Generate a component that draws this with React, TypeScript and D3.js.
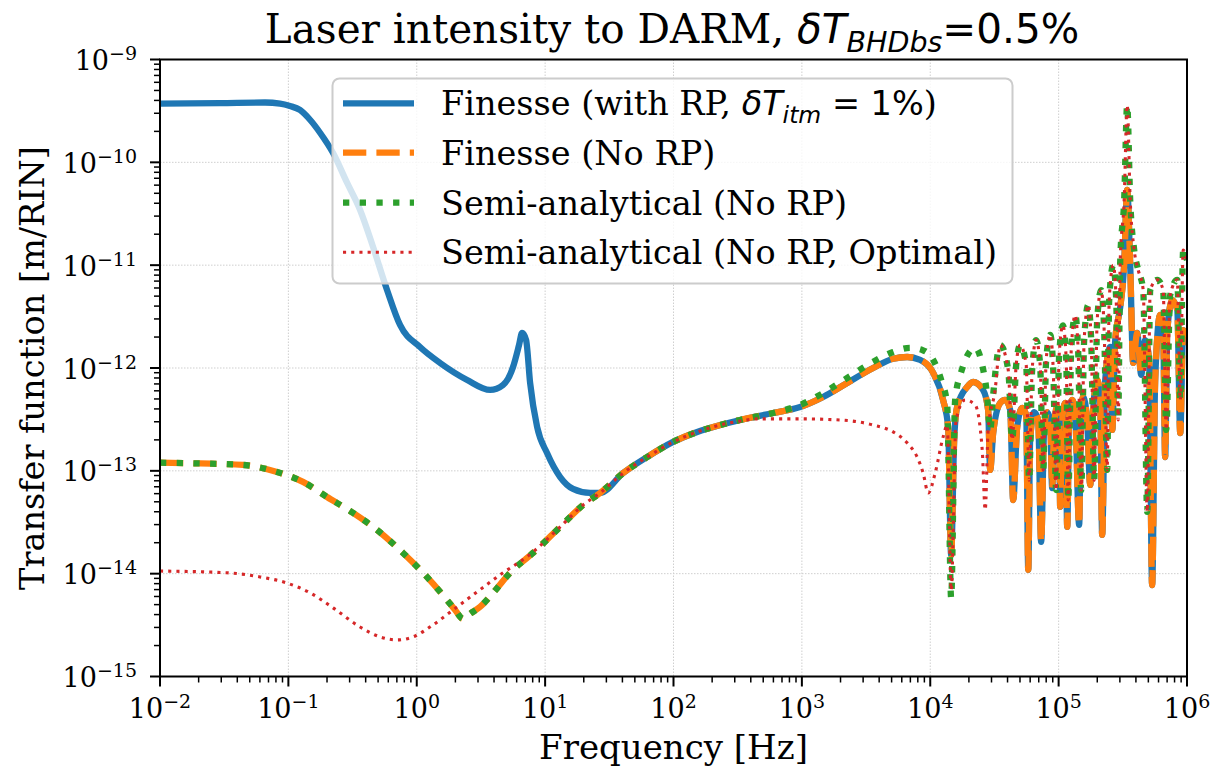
import React from 'react';
import * as d3 from 'd3';

const W = 1210;
const H = 771;
const PL = 160, PR = 1187, PT = 59.5, PB = 676.5;

const SERIF = '"DejaVu Serif", serif';
const SANS = '"DejaVu Sans", sans-serif';

const xTickExps = [-2, -1, 0, 1, 2, 3, 4, 5, 6];
const yTickExps = [-15, -14, -13, -12, -11, -10, -9];

// Finesse (No RP)
const finesseFreq = [
  0.01, 0.0205, 0.0444, 0.0816, 0.13, 0.2, 0.319, 0.491, 0.782, 1.2, 1.72, 1.99, 2.3, 2.6, 3.11, 3.93, 5.33, 8.05,
  13.1, 19.8, 26.8, 40.5, 62.2, 99.3, 153, 231, 330, 597, 969, 1465, 2254, 3590, 5140, 6610, 8340, 10540, 12590,
  13780, 14550, 15360, 16200, 19380, 21570, 25820, 28250, 29300, 30900, 35060, 38370, 41980, 44270, 47560, 52040,
  55900, 58000, 60000, 64500, 69300, 73100, 77100, 81500, 86000, 89100, 92300, 97500, 101000, 102800, 106600,
  112500, 116700, 120900, 127600, 134600, 144500, 149900, 155300, 166700, 176200, 185700, 199700, 210800, 218400,
  230700, 252600, 261500, 276000, 302000, 324000, 342000, 361000, 381000, 409000, 440000, 472000, 507000, 535000,
  565000, 618000, 652000, 676000, 702000, 768000, 840000, 886000, 934000, 1000000,
];
const finesseVal = [
  1.2e-13, 1.18e-13, 1.14e-13, 9.75e-14, 7.8e-14, 5.57e-14, 3.9e-14, 2.66e-14, 1.59e-14, 9.3e-15, 5.55e-15, 4.44e-15,
  3.63e-15, 4.07e-15, 4.75e-15, 6.5e-15, 1.02e-14, 1.59e-14, 2.85e-14, 4.67e-14, 6.1e-14, 9.5e-14, 1.36e-13, 1.91e-13,
  2.39e-13, 2.79e-13, 3.12e-13, 3.65e-13, 4.18e-13, 5.23e-13, 7.16e-13, 1.0e-12, 1.23e-12, 1.28e-12, 1.2e-12,
  8.95e-13, 4.89e-13, 2.67e-13, 1.52e-14, 2.0e-13, 4.18e-13, 6.53e-13, 7.31e-13, 6.1e-13, 3.9e-13, 1.02e-13,
  2.33e-13, 4.57e-13, 4.89e-13, 3.9e-13, 5.2e-14, 2.67e-13, 4.09e-13, 3.49e-13, 1.09e-14, 2.0e-13, 3.73e-13,
  3.12e-13, 2.04e-14, 2.5e-13, 3.73e-13, 3.12e-13, 6.8e-14, 2.79e-13, 4.18e-13, 3.12e-13, 4.46e-14, 3.12e-13,
  4.57e-13, 2.85e-14, 3.49e-13, 4.89e-13, 3.49e-13, 2.98e-14, 3.9e-13, 5.23e-13, 3.12e-13, 7.3e-14, 3.9e-13,
  7.65e-13, 4.89e-13, 2.38e-14, 7.65e-13, 1.6e-12, 2.5e-13, 1.87e-12, 3.92e-12, 1.0e-11, 5.4e-11, 1.0e-11,
  1.12e-12, 2.19e-12, 8.57e-13, 1.87e-12, 1.19e-12, 7.74e-15, 7.65e-13, 3.28e-12, 2.34e-12, 1.36e-13, 2.3e-12,
  4.58e-12, 3.66e-12, 2.33e-13, 2.34e-12, 1.67e-12,
];

// Finesse (with RP) below the merge frequency
const withRPFreq = [
  0.01, 0.0293, 0.0658, 0.0861, 0.103, 0.123, 0.148, 0.177, 0.223, 0.287, 0.362, 0.457, 0.587, 0.741, 1.06, 1.52,
  2.47, 3.73, 4.7, 5.62, 6.26, 6.61, 7.11, 7.64, 8.66, 10.35, 13.1, 16.5, 22.4,
];
const withRPVal = [
  3.73e-10, 3.77e-10, 3.82e-10, 3.73e-10, 3.53e-10, 3.23e-10, 2.58e-10, 1.93e-10, 1.23e-10, 6.3e-11, 3.44e-11,
  1.5e-11, 5.74e-12, 2.62e-12, 1.6e-12, 1.12e-12, 7.65e-13, 6.12e-13, 6.85e-13, 1.02e-12, 1.67e-12, 2.19e-12,
  1.87e-12, 7.16e-13, 2.67e-13, 1.49e-13, 8.7e-14, 6.67e-14, 6.1e-14,
];

// Semi-analytical (No RP), above 700 Hz
const semiHighFreq = [
  969, 1465, 2254, 3590, 5140, 6970, 8650, 10540, 12170, 13550, 14550, 15630, 17400, 22400, 25400, 27700, 29300,
  30900, 35060, 40500, 43500, 46700, 50100, 55900, 58900, 62200, 66800, 71800, 75800, 80000, 86000, 90800, 95700,
  101000, 108000, 114600, 118700, 125400, 134600, 141900, 149900, 158100, 170000, 179300, 189100, 199700, 214300,
  226300, 238800, 247700, 266000, 281000, 291000, 302000, 324000, 342000, 361000, 388000, 417000, 456000, 490000,
  517000, 586000, 652000, 689000, 740000, 840000, 886000, 934000, 1000000,
];
const semiHighVal = [
  4.37e-13, 5.71e-13, 8.0e-13, 1.15e-12, 1.43e-12, 1.57e-12, 1.5e-12, 1.2e-12, 7.65e-13, 4.37e-13, 5.8e-15,
  4.89e-13, 9.1e-13, 1.57e-12, 1.07e-12, 5.47e-13, 2.5e-13, 5.47e-13, 1.67e-12, 9.57e-13, 2.0e-13, 1.07e-12,
  1.67e-12, 1.07e-12, 8.1e-14, 9.57e-13, 1.87e-12, 1.07e-12, 1.02e-13, 1.2e-12, 2.1e-12, 9.57e-13, 6.5e-14,
  1.34e-12, 2.6e-12, 1.2e-12, 5.2e-14, 1.5e-12, 3.27e-12, 1.5e-12, 6.5e-14, 1.87e-12, 4.09e-12, 1.87e-12, 8.1e-14,
  2.93e-12, 5.73e-12, 2.34e-12, 1.02e-13, 4.58e-12, 1.0e-11, 4.58e-12, 3.12e-13, 1.12e-11, 4.3e-11, 3.61e-10,
  4.3e-11, 1.4e-11, 8.97e-12, 5.74e-12, 4.0e-14, 5.74e-12, 7.2e-12, 5.74e-12, 2.5e-13, 5.13e-12, 7.2e-12,
  4.89e-13, 1.4e-11, 1.12e-11,
];

// Semi-analytical (No RP, Optimal): low and middle parts
const optLowFreq = [0.01, 0.0333, 0.0601, 0.0976, 0.148, 0.223, 0.362, 0.518, 0.703, 0.936, 1.34, 1.92, 2.95, 4.7, 7.23];
const optLowVal = [
  1.06e-14, 1.02e-14, 9.3e-15, 8.1e-15, 6.5e-15, 4.65e-15, 3.03e-15, 2.43e-15, 2.27e-15, 2.43e-15, 3.18e-15,
  4.44e-15, 6.65e-15, 1.02e-14, 1.46e-14,
];
const optMidFreq = [
  330, 448, 969, 1986, 3590, 5140, 6610, 7910, 8810, 9640, 10920, 12590, 13550, 14550, 15900, 18700, 22400, 25400,
  26800, 28250, 32000,
];
const optMidVal = [
  3.05e-13, 3.2e-13, 3.2e-13, 3.12e-13, 2.79e-13, 2.39e-13, 1.87e-13, 1.36e-13, 9.5e-14, 6.1e-14, 9.5e-14,
  2.13e-13, 2.79e-13, 6.9e-15, 3.12e-13, 4.89e-13, 4.37e-13, 1.6e-13, 4.17e-14, 2.5e-13, 6.1e-13,
];

type P = [number, number];
const zip = (f: number[], v: number[]): P[] => f.map((d, i) => [d, v[i]] as P);

const finesse = zip(finesseFreq, finesseVal);
const withRP: P[] = [...zip(withRPFreq, withRPVal), ...finesse.filter((d) => d[0] > 26)];
const semi: P[] = [...finesse.filter((d) => d[0] < 700), ...zip(semiHighFreq, semiHighVal)];
const optimal: P[] = [
  ...zip(optLowFreq, optLowVal),
  ...finesse.filter((d) => d[0] >= 13 && d[0] <= 231),
  ...zip(optMidFreq, optMidVal),
  ...zip(semiHighFreq, semiHighVal).filter((d) => d[0] > 33000),
];

const C_BLUE = '#1f77b4', C_ORANGE = '#ff7f0e', C_GREEN = '#2ca02c', C_RED = '#d62728';

export default function App() {
  const x = d3.scaleLog().domain([1e-2, 1e6]).range([PL, PR]);
  const y = d3.scaleLog().domain([1e-15, 1e-9]).range([PB, PT]);
  const line = d3
    .line<P>()
    .x((d) => x(d[0]))
    .y((d) => y(d[1]))
    .curve(d3.curveMonotoneX);

  const xt = x.ticks();
  const yt = y.ticks();
  const isMajor = (v: number) => Math.abs(Math.log10(v) - Math.round(Math.log10(v))) < 1e-9;

  const legendItems = [
    { color: C_BLUE, w: 6.3, dash: undefined as string | undefined },
    { color: C_ORANGE, w: 6.3, dash: '23.3,10.1' },
    { color: C_GREEN, w: 6.3, dash: '6.3,10.4' },
    { color: C_RED, w: 3.1, dash: '3.1,5.1' },
  ];
  const legendRowY = [103.3, 152.7, 202.7, 252.3];

  return (
    <svg width={W} height={H} style={{ position: 'absolute', left: 0, top: 0, background: '#fff' }}>
      <defs>
        <clipPath id="plotclip">
          <rect x={PL} y={PT} width={PR - PL} height={PB - PT} />
        </clipPath>
      </defs>
      <rect x={0} y={0} width={W} height={H} fill="#fff" />
      {/* grid */}
      <g stroke="#cfcfcf" strokeWidth={1} strokeDasharray="1.5,1.5">
        {xTickExps.map((e) => (
          <line key={'gx' + e} x1={x(Math.pow(10, e))} x2={x(Math.pow(10, e))} y1={PT} y2={PB} />
        ))}
        {yTickExps.map((e) => (
          <line key={'gy' + e} y1={y(Math.pow(10, e))} y2={y(Math.pow(10, e))} x1={PL} x2={PR} />
        ))}
      </g>
      {/* curves */}
      <g clipPath="url(#plotclip)" fill="none" strokeLinejoin="round">
        <path d={line(withRP) || ''} stroke={C_BLUE} strokeWidth={6.3} />
        <path d={line(finesse) || ''} stroke={C_ORANGE} strokeWidth={6.3} strokeDasharray="23.3,10.1" />
        <path d={line(semi) || ''} stroke={C_GREEN} strokeWidth={6.3} strokeDasharray="6.3,10.4" />
        <path d={line(optimal) || ''} stroke={C_RED} strokeWidth={3.1} strokeDasharray="3.1,5.1" />
      </g>
      {/* spines */}
      <rect x={PL} y={PT} width={PR - PL} height={PB - PT} fill="none" stroke="#000" strokeWidth={2} />
      {/* ticks */}
      <g stroke="#000">
        {xt.map((v, i) => (
          <line
            key={'xt' + i}
            x1={x(v)}
            x2={x(v)}
            y1={PB}
            y2={PB + (isMajor(v) ? 10 : 6)}
            strokeWidth={isMajor(v) ? 2 : 1.5}
          />
        ))}
        {yt.map((v, i) => (
          <line
            key={'yt' + i}
            y1={y(v)}
            y2={y(v)}
            x1={PL}
            x2={PL - (isMajor(v) ? 10 : 6)}
            strokeWidth={isMajor(v) ? 2 : 1.5}
          />
        ))}
      </g>
      <g fontFamily={SERIF} fontSize={27} fill="#000">
        {xTickExps.map((e) => (
          <text key={'xl' + e} x={x(Math.pow(10, e))} y={PB + 41.5} textAnchor="middle">
            10
            <tspan fontSize={19} dy={-10}>
              {e < 0 ? '\u2212' + Math.abs(e) : String(e)}
            </tspan>
          </text>
        ))}
        {yTickExps.map((e) => (
          <text key={'yl' + e} x={137} y={y(Math.pow(10, e)) + 10.5} textAnchor="end">
            10
            <tspan fontSize={19} dy={-10}>
              {'\u2212' + Math.abs(e)}
            </tspan>
          </text>
        ))}
      </g>
      {/* axis labels */}
      <text x={(PL + PR) / 2} y={759} textAnchor="middle" fontFamily={SERIF} fontSize={34}>
        Frequency [Hz]
      </text>
      <text
        transform={`translate(44, ${(PT + PB) / 2}) rotate(-90)`}
        textAnchor="middle"
        fontFamily={SERIF}
        fontSize={33.5}
      >
        Transfer function [m/RIN]
      </text>
      {/* title */}
      <text x={(PL + PR) / 2 - 1.5} y={43} textAnchor="middle" fontSize={40.5} style={{ whiteSpace: 'pre' }}>
        <tspan fontFamily={SERIF}>{'Laser intensity to DARM, '}</tspan>
        <tspan fontFamily={SANS} fontStyle="italic">{'\u03b4T'}</tspan>
        <tspan fontFamily={SANS} fontStyle="italic" fontSize={28.5} dy={8.5}>
          BHDbs
        </tspan>
        <tspan fontFamily={SANS} dy={-8.5}>
          =0.5%
        </tspan>
      </text>
      {/* legend */}
      <rect
        x={332.5}
        y={78.5}
        width={680}
        height={205}
        rx={7}
        fill="#fff"
        fillOpacity={0.8}
        stroke="#cccccc"
        strokeWidth={2}
      />
      {legendItems.map((it, i) => (
        <line
          key={'lg' + i}
          x1={343}
          x2={414}
          y1={legendRowY[i]}
          y2={legendRowY[i]}
          stroke={it.color}
          strokeWidth={it.w}
          strokeDasharray={it.dash}
        />
      ))}
      <g fontSize={33.5} fontFamily={SERIF} style={{ whiteSpace: 'pre' }}>
        <text x={441} y={legendRowY[0] + 12}>
          <tspan>{'Finesse (with RP, '}</tspan>
          <tspan fontFamily={SANS} fontStyle="italic">{'\u03b4T'}</tspan>
          <tspan fontFamily={SANS} fontStyle="italic" fontSize={23.5} dy={7.5}>
            itm
          </tspan>
          <tspan fontFamily={SANS} dy={-7.5}>
            {' = 1%'}
          </tspan>
          <tspan>)</tspan>
        </text>
        <text x={441} y={legendRowY[1] + 12}>
          Finesse (No RP)
        </text>
        <text x={441} y={legendRowY[2] + 12}>
          Semi-analytical (No RP)
        </text>
        <text x={441} y={legendRowY[3] + 12}>
          Semi-analytical (No RP, Optimal)
        </text>
      </g>
    </svg>
  );
}
